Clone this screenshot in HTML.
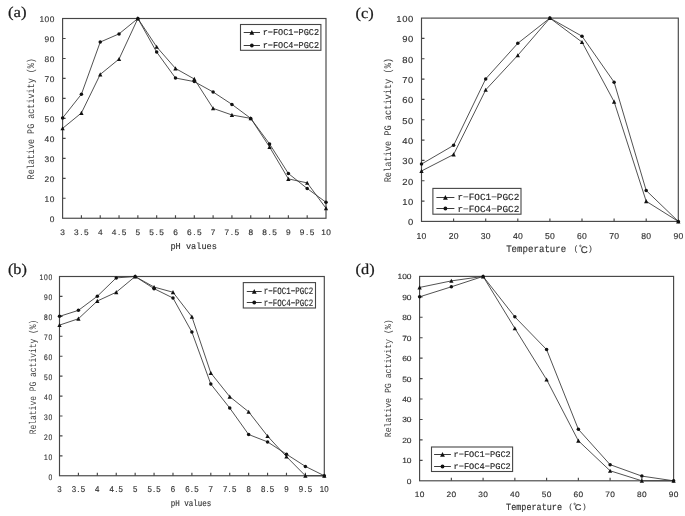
<!DOCTYPE html>
<html><head><meta charset="utf-8"><style>
html,body{margin:0;padding:0;background:#fff;}
svg{display:block;filter:blur(0.3px);}
text{text-rendering:geometricPrecision;}
</style></head><body>
<svg width="685" height="516" viewBox="0 0 685 516" font-family='"Liberation Mono", monospace'>
<rect width="685" height="516" fill="#fff"/>
<g fill="none" stroke="#464646" stroke-width="1.15">
<rect x="62.6" y="18.5" width="263.4" height="199.75"/>
<path d="M62.6 198.28h3M62.6 178.3h3M62.6 158.32h3M62.6 138.35h3M62.6 118.38h3M62.6 98.4h3M62.6 78.43h3M62.6 58.45h3M62.6 38.47h3M81.41 218.25v-3M100.23 218.25v-3M119.04 218.25v-3M137.86 218.25v-3M156.67 218.25v-3M175.49 218.25v-3M194.3 218.25v-3M213.11 218.25v-3M231.93 218.25v-3M250.74 218.25v-3M269.56 218.25v-3M288.37 218.25v-3M307.19 218.25v-3"/>
</g>
<polyline points="62.6,128.36 81.41,112.98 100.23,74.43 119.04,59.05 137.86,18.5 156.67,46.86 175.49,68.44 194.3,79.02 213.11,108.39 231.93,114.98 250.74,118.38 269.56,146.94 288.37,178.9 307.19,182.89 326,208.26" fill="none" stroke="#333333" stroke-width="0.85"/>
<polyline points="62.6,117.98 81.41,94.21 100.23,42.07 119.04,33.88 137.86,18.5 156.67,52.06 175.49,78.03 194.3,81.62 213.11,92.01 231.93,104.39 250.74,118.38 269.56,143.94 288.37,173.51 307.19,188.49 326,202.27" fill="none" stroke="#333333" stroke-width="0.85"/>
<g fill="#111">
<path d="M62.6 126.21L64.75 130.34L60.45 130.34Z"/>
<path d="M81.41 110.83L83.56 114.96L79.26 114.96Z"/>
<path d="M100.23 72.28L102.38 76.41L98.08 76.41Z"/>
<path d="M119.04 56.9L121.19 61.03L116.89 61.03Z"/>
<path d="M137.86 16.35L140.01 20.48L135.71 20.48Z"/>
<path d="M156.67 44.71L158.82 48.84L154.52 48.84Z"/>
<path d="M175.49 66.29L177.64 70.42L173.34 70.42Z"/>
<path d="M194.3 76.87L196.45 81L192.15 81Z"/>
<path d="M213.11 106.24L215.26 110.37L210.96 110.37Z"/>
<path d="M231.93 112.83L234.08 116.96L229.78 116.96Z"/>
<path d="M250.74 116.22L252.89 120.35L248.59 120.35Z"/>
<path d="M269.56 144.79L271.71 148.92L267.41 148.92Z"/>
<path d="M288.37 176.75L290.52 180.88L286.22 180.88Z"/>
<path d="M307.19 180.74L309.34 184.87L305.04 184.87Z"/>
<path d="M326 206.11L328.15 210.24L323.85 210.24Z"/>
<circle cx="62.6" cy="117.98" r="1.75"/>
<circle cx="81.41" cy="94.21" r="1.75"/>
<circle cx="100.23" cy="42.07" r="1.75"/>
<circle cx="119.04" cy="33.88" r="1.75"/>
<circle cx="137.86" cy="18.5" r="1.75"/>
<circle cx="156.67" cy="52.06" r="1.75"/>
<circle cx="175.49" cy="78.03" r="1.75"/>
<circle cx="194.3" cy="81.62" r="1.75"/>
<circle cx="213.11" cy="92.01" r="1.75"/>
<circle cx="231.93" cy="104.39" r="1.75"/>
<circle cx="250.74" cy="118.38" r="1.75"/>
<circle cx="269.56" cy="143.94" r="1.75"/>
<circle cx="288.37" cy="173.51" r="1.75"/>
<circle cx="307.19" cy="188.49" r="1.75"/>
<circle cx="326" cy="202.27" r="1.75"/>
</g>
<g fill="#333333" stroke="#333333" stroke-width="0.15" font-family='"Liberation Mono", monospace'>
<text transform="scale(1.02 1)" x="50.98" y="221.81" font-size="8.2" text-anchor="middle" font-family='"Liberation Sans", sans-serif'>0</text>
<text transform="scale(1.02 1)" x="45.98 50.98" y="201.84" font-size="8.2" text-anchor="middle" font-family='"Liberation Sans", sans-serif'>10</text>
<text transform="scale(1.02 1)" x="45.98 50.98" y="181.86" font-size="8.2" text-anchor="middle" font-family='"Liberation Sans", sans-serif'>20</text>
<text transform="scale(1.02 1)" x="45.98 50.98" y="161.89" font-size="8.2" text-anchor="middle" font-family='"Liberation Sans", sans-serif'>30</text>
<text transform="scale(1.02 1)" x="45.98 50.98" y="141.91" font-size="8.2" text-anchor="middle" font-family='"Liberation Sans", sans-serif'>40</text>
<text transform="scale(1.02 1)" x="45.98 50.98" y="121.94" font-size="8.2" text-anchor="middle" font-family='"Liberation Sans", sans-serif'>50</text>
<text transform="scale(1.02 1)" x="45.98 50.98" y="101.96" font-size="8.2" text-anchor="middle" font-family='"Liberation Sans", sans-serif'>60</text>
<text transform="scale(1.02 1)" x="45.98 50.98" y="81.99" font-size="8.2" text-anchor="middle" font-family='"Liberation Sans", sans-serif'>70</text>
<text transform="scale(1.02 1)" x="45.98 50.98" y="62.01" font-size="8.2" text-anchor="middle" font-family='"Liberation Sans", sans-serif'>80</text>
<text transform="scale(1.02 1)" x="45.98 50.98" y="42.04" font-size="8.2" text-anchor="middle" font-family='"Liberation Sans", sans-serif'>90</text>
<text transform="scale(1.02 1)" x="40.98 45.98 50.98" y="22.06" font-size="8.2" text-anchor="middle" font-family='"Liberation Sans", sans-serif'>100</text>
<text transform="scale(1.03 1)" x="60.78" y="235.2" font-size="8.05" text-anchor="middle" font-family='"Liberation Sans", sans-serif'>3</text>
<text transform="scale(1.03 1)" x="74.19 79.04 83.9" y="235.2" font-size="8.05" text-anchor="middle" font-family='"Liberation Sans", sans-serif'>3.5</text>
<text transform="scale(1.03 1)" x="97.31" y="235.2" font-size="8.05" text-anchor="middle" font-family='"Liberation Sans", sans-serif'>4</text>
<text transform="scale(1.03 1)" x="110.72 115.58 120.43" y="235.2" font-size="8.05" text-anchor="middle" font-family='"Liberation Sans", sans-serif'>4.5</text>
<text transform="scale(1.03 1)" x="133.84" y="235.2" font-size="8.05" text-anchor="middle" font-family='"Liberation Sans", sans-serif'>5</text>
<text transform="scale(1.03 1)" x="147.25 152.11 156.96" y="235.2" font-size="8.05" text-anchor="middle" font-family='"Liberation Sans", sans-serif'>5.5</text>
<text transform="scale(1.03 1)" x="170.37" y="235.2" font-size="8.05" text-anchor="middle" font-family='"Liberation Sans", sans-serif'>6</text>
<text transform="scale(1.03 1)" x="183.79 188.64 193.5" y="235.2" font-size="8.05" text-anchor="middle" font-family='"Liberation Sans", sans-serif'>6.5</text>
<text transform="scale(1.03 1)" x="206.91" y="235.2" font-size="8.05" text-anchor="middle" font-family='"Liberation Sans", sans-serif'>7</text>
<text transform="scale(1.03 1)" x="220.32 225.17 230.03" y="235.2" font-size="8.05" text-anchor="middle" font-family='"Liberation Sans", sans-serif'>7.5</text>
<text transform="scale(1.03 1)" x="243.44" y="235.2" font-size="8.05" text-anchor="middle" font-family='"Liberation Sans", sans-serif'>8</text>
<text transform="scale(1.03 1)" x="256.85 261.71 266.56" y="235.2" font-size="8.05" text-anchor="middle" font-family='"Liberation Sans", sans-serif'>8.5</text>
<text transform="scale(1.03 1)" x="279.97" y="235.2" font-size="8.05" text-anchor="middle" font-family='"Liberation Sans", sans-serif'>9</text>
<text transform="scale(1.03 1)" x="293.38 298.24 303.09" y="235.2" font-size="8.05" text-anchor="middle" font-family='"Liberation Sans", sans-serif'>9.5</text>
<text transform="scale(1.03 1)" x="314.08 318.93" y="235.2" font-size="8.05" text-anchor="middle" font-family='"Liberation Sans", sans-serif'>10</text>
<text transform="translate(34.3 179.4) rotate(-90)" font-size="10.1" stroke-width="0" fill="#404040" textLength="121.31" lengthAdjust="spacingAndGlyphs">Relative PG activity (%)</text>
<text x="170.38" y="249.2" font-size="9" textLength="46.53" lengthAdjust="spacingAndGlyphs" stroke-width="0.15">pH values</text>
<rect x="240.5" y="24.5" width="80.4" height="25.8" fill="#fff" stroke="#464646" stroke-width="1.1"/>
</g>
<path d="M243.7 32.5H260" stroke="#3c3c3c" stroke-width="1" fill="none"/>
<g fill="#111"><path d="M251.85 30.1L254.25 34.71L249.45 34.71Z"/></g>
<g fill="#262626" stroke="#262626" stroke-width="0.15" font-family='"Liberation Mono", monospace'>
<text x="262.69" y="35" font-size="9" textLength="56.43" lengthAdjust="spacingAndGlyphs">r−FOC1−PGC2</text>
</g>
<path d="M243.7 45.5H260" stroke="#3c3c3c" stroke-width="1" fill="none"/>
<g fill="#111"><circle cx="251.85" cy="45.5" r="1.9"/></g>
<g fill="#262626" stroke="#262626" stroke-width="0.15" font-family='"Liberation Mono", monospace'>
<text x="262.69" y="47.6" font-size="9" textLength="56.43" lengthAdjust="spacingAndGlyphs">r−FOC4−PGC2</text>
</g>
<text x="7.9" y="17" font-family='"Liberation Serif", serif' font-size="15" fill="#1a1a1a" stroke="#1a1a1a" stroke-width="0.22" textLength="18.57" lengthAdjust="spacingAndGlyphs">(a)</text>
<g fill="none" stroke="#464646" stroke-width="1.15">
<rect x="59.5" y="276.5" width="264.8" height="199.25"/>
<path d="M59.5 455.82h3M59.5 435.9h3M59.5 415.98h3M59.5 396.05h3M59.5 376.12h3M59.5 356.2h3M59.5 336.27h3M59.5 316.35h3M59.5 296.42h3M78.41 475.75v-3M97.33 475.75v-3M116.24 475.75v-3M135.16 475.75v-3M154.07 475.75v-3M172.99 475.75v-3M191.9 475.75v-3M210.81 475.75v-3M229.73 475.75v-3M248.64 475.75v-3M267.56 475.75v-3M286.47 475.75v-3M305.39 475.75v-3"/>
</g>
<polyline points="59.5,325.12 78.41,318.74 97.33,301.01 116.24,292.24 135.16,276.5 154.07,287.06 172.99,292.24 191.9,316.75 210.81,372.94 229.73,396.65 248.64,411.79 267.56,436.1 286.47,456.62 305.39,475.75 324.3,475.75" fill="none" stroke="#333333" stroke-width="0.85"/>
<polyline points="59.5,316.35 78.41,310.37 97.33,296.23 116.24,277.89 135.16,276.5 154.07,288.65 172.99,298.02 191.9,332.09 210.81,384.1 229.73,408 248.64,434.51 267.56,441.88 286.47,454.23 305.39,466.39 324.3,475.75" fill="none" stroke="#333333" stroke-width="0.85"/>
<g fill="#111">
<path d="M59.5 322.97L61.65 327.1L57.35 327.1Z"/>
<path d="M78.41 316.59L80.56 320.72L76.26 320.72Z"/>
<path d="M97.33 298.86L99.48 302.99L95.18 302.99Z"/>
<path d="M116.24 290.09L118.39 294.22L114.09 294.22Z"/>
<path d="M135.16 274.35L137.31 278.48L133.01 278.48Z"/>
<path d="M154.07 284.91L156.22 289.04L151.92 289.04Z"/>
<path d="M172.99 290.09L175.14 294.22L170.84 294.22Z"/>
<path d="M191.9 314.6L194.05 318.73L189.75 318.73Z"/>
<path d="M210.81 370.79L212.96 374.92L208.66 374.92Z"/>
<path d="M229.73 394.5L231.88 398.63L227.58 398.63Z"/>
<path d="M248.64 409.64L250.79 413.77L246.49 413.77Z"/>
<path d="M267.56 433.95L269.71 438.08L265.41 438.08Z"/>
<path d="M286.47 454.47L288.62 458.6L284.32 458.6Z"/>
<path d="M305.39 473.6L307.54 477.73L303.24 477.73Z"/>
<path d="M324.3 473.6L326.45 477.73L322.15 477.73Z"/>
<circle cx="59.5" cy="316.35" r="1.75"/>
<circle cx="78.41" cy="310.37" r="1.75"/>
<circle cx="97.33" cy="296.23" r="1.75"/>
<circle cx="116.24" cy="277.89" r="1.75"/>
<circle cx="135.16" cy="276.5" r="1.75"/>
<circle cx="154.07" cy="288.65" r="1.75"/>
<circle cx="172.99" cy="298.02" r="1.75"/>
<circle cx="191.9" cy="332.09" r="1.75"/>
<circle cx="210.81" cy="384.1" r="1.75"/>
<circle cx="229.73" cy="408" r="1.75"/>
<circle cx="248.64" cy="434.51" r="1.75"/>
<circle cx="267.56" cy="441.88" r="1.75"/>
<circle cx="286.47" cy="454.23" r="1.75"/>
<circle cx="305.39" cy="466.39" r="1.75"/>
<circle cx="324.3" cy="475.75" r="1.75"/>
</g>
<g fill="#333333" stroke="#333333" stroke-width="0.15" font-family='"Liberation Mono", monospace'>
<text transform="scale(0.83 1)" x="60.73" y="479.66" font-size="8.05" text-anchor="middle" font-family='"Liberation Sans", sans-serif'>0</text>
<text transform="scale(0.83 1)" x="55.3 60.73" y="459.73" font-size="8.05" text-anchor="middle" font-family='"Liberation Sans", sans-serif'>10</text>
<text transform="scale(0.83 1)" x="55.3 60.73" y="439.81" font-size="8.05" text-anchor="middle" font-family='"Liberation Sans", sans-serif'>20</text>
<text transform="scale(0.83 1)" x="55.3 60.73" y="419.88" font-size="8.05" text-anchor="middle" font-family='"Liberation Sans", sans-serif'>30</text>
<text transform="scale(0.83 1)" x="55.3 60.73" y="399.96" font-size="8.05" text-anchor="middle" font-family='"Liberation Sans", sans-serif'>40</text>
<text transform="scale(0.83 1)" x="55.3 60.73" y="380.03" font-size="8.05" text-anchor="middle" font-family='"Liberation Sans", sans-serif'>50</text>
<text transform="scale(0.83 1)" x="55.3 60.73" y="360.11" font-size="8.05" text-anchor="middle" font-family='"Liberation Sans", sans-serif'>60</text>
<text transform="scale(0.83 1)" x="55.3 60.73" y="340.18" font-size="8.05" text-anchor="middle" font-family='"Liberation Sans", sans-serif'>70</text>
<text transform="scale(0.83 1)" x="55.3 60.73" y="320.26" font-size="8.05" text-anchor="middle" font-family='"Liberation Sans", sans-serif'>80</text>
<text transform="scale(0.83 1)" x="55.3 60.73" y="300.33" font-size="8.05" text-anchor="middle" font-family='"Liberation Sans", sans-serif'>90</text>
<text transform="scale(0.83 1)" x="49.88 55.3 60.73" y="280.41" font-size="8.05" text-anchor="middle" font-family='"Liberation Sans", sans-serif'>100</text>
<text transform="scale(0.93 1)" x="63.98" y="492.1" font-size="8.5" text-anchor="middle" font-family='"Liberation Sans", sans-serif'>3</text>
<text transform="scale(0.93 1)" x="79.53 84.32 89.1" y="492.1" font-size="8.5" text-anchor="middle" font-family='"Liberation Sans", sans-serif'>3.5</text>
<text transform="scale(0.93 1)" x="104.65" y="492.1" font-size="8.5" text-anchor="middle" font-family='"Liberation Sans", sans-serif'>4</text>
<text transform="scale(0.93 1)" x="120.21 124.99 129.78" y="492.1" font-size="8.5" text-anchor="middle" font-family='"Liberation Sans", sans-serif'>4.5</text>
<text transform="scale(0.93 1)" x="145.33" y="492.1" font-size="8.5" text-anchor="middle" font-family='"Liberation Sans", sans-serif'>5</text>
<text transform="scale(0.93 1)" x="160.88 165.67 170.45" y="492.1" font-size="8.5" text-anchor="middle" font-family='"Liberation Sans", sans-serif'>5.5</text>
<text transform="scale(0.93 1)" x="186.01" y="492.1" font-size="8.5" text-anchor="middle" font-family='"Liberation Sans", sans-serif'>6</text>
<text transform="scale(0.93 1)" x="201.56 206.34 211.13" y="492.1" font-size="8.5" text-anchor="middle" font-family='"Liberation Sans", sans-serif'>6.5</text>
<text transform="scale(0.93 1)" x="226.68" y="492.1" font-size="8.5" text-anchor="middle" font-family='"Liberation Sans", sans-serif'>7</text>
<text transform="scale(0.93 1)" x="242.24 247.02 251.8" y="492.1" font-size="8.5" text-anchor="middle" font-family='"Liberation Sans", sans-serif'>7.5</text>
<text transform="scale(0.93 1)" x="267.36" y="492.1" font-size="8.5" text-anchor="middle" font-family='"Liberation Sans", sans-serif'>8</text>
<text transform="scale(0.93 1)" x="282.91 287.7 292.48" y="492.1" font-size="8.5" text-anchor="middle" font-family='"Liberation Sans", sans-serif'>8.5</text>
<text transform="scale(0.93 1)" x="308.03" y="492.1" font-size="8.5" text-anchor="middle" font-family='"Liberation Sans", sans-serif'>9</text>
<text transform="scale(0.93 1)" x="323.59 328.37 333.16" y="492.1" font-size="8.5" text-anchor="middle" font-family='"Liberation Sans", sans-serif'>9.5</text>
<text transform="scale(0.93 1)" x="346.32 351.1" y="492.1" font-size="8.5" text-anchor="middle" font-family='"Liberation Sans", sans-serif'>10</text>
<text transform="translate(35.7 434.28) rotate(-90)" font-size="9.9" stroke-width="0" fill="#404040" textLength="114.66" lengthAdjust="spacingAndGlyphs">Relative PG activity (%)</text>
<text x="170.75" y="506" font-size="8.8" textLength="40.6" lengthAdjust="spacingAndGlyphs" stroke-width="0.15">pH values</text>
<rect x="243.3" y="282.6" width="72.2" height="25.4" fill="#fff" stroke="#464646" stroke-width="1.1"/>
</g>
<path d="M246.8 291.5H261.7" stroke="#3c3c3c" stroke-width="1" fill="none"/>
<g fill="#111"><path d="M254.25 289.1L256.65 293.71L251.85 293.71Z"/></g>
<g fill="#262626" stroke="#262626" stroke-width="0.15" font-family='"Liberation Mono", monospace'>
<text x="263.85" y="293.8" font-size="9.8" textLength="49.5" lengthAdjust="spacingAndGlyphs">r−FOC1−PGC2</text>
</g>
<path d="M246.8 302.5H261.7" stroke="#3c3c3c" stroke-width="1" fill="none"/>
<g fill="#111"><circle cx="254.25" cy="302.5" r="1.9"/></g>
<g fill="#262626" stroke="#262626" stroke-width="0.15" font-family='"Liberation Mono", monospace'>
<text x="263.85" y="305.5" font-size="9.8" textLength="49.5" lengthAdjust="spacingAndGlyphs">r−FOC4−PGC2</text>
</g>
<text x="7.9" y="274.1" font-family='"Liberation Serif", serif' font-size="15" fill="#1a1a1a" stroke="#1a1a1a" stroke-width="0.22" textLength="18.93" lengthAdjust="spacingAndGlyphs">(b)</text>
<g fill="none" stroke="#464646" stroke-width="1.15">
<rect x="421.5" y="18.1" width="256.8" height="203.3"/>
<path d="M421.5 201.07h3M421.5 180.74h3M421.5 160.41h3M421.5 140.08h3M421.5 119.75h3M421.5 99.42h3M421.5 79.09h3M421.5 58.76h3M421.5 38.43h3M453.6 221.4v-3M485.7 221.4v-3M517.8 221.4v-3M549.9 221.4v-3M582 221.4v-3M614.1 221.4v-3M646.2 221.4v-3"/>
</g>
<polyline points="421.5,170.98 453.6,154.51 485.7,89.86 517.8,55.3 549.9,18.1 582,42.09 614.1,101.66 646.2,201.27 678.3,221.4" fill="none" stroke="#333333" stroke-width="0.85"/>
<polyline points="421.5,164.07 453.6,145.37 485.7,78.89 517.8,43.31 549.9,18.1 582,36.19 614.1,82.14 646.2,190.5 678.3,221.4" fill="none" stroke="#333333" stroke-width="0.85"/>
<g fill="#111">
<path d="M421.5 168.83L423.65 172.96L419.35 172.96Z"/>
<path d="M453.6 152.36L455.75 156.49L451.45 156.49Z"/>
<path d="M485.7 87.71L487.85 91.84L483.55 91.84Z"/>
<path d="M517.8 53.15L519.95 57.28L515.65 57.28Z"/>
<path d="M549.9 15.95L552.05 20.08L547.75 20.08Z"/>
<path d="M582 39.94L584.15 44.07L579.85 44.07Z"/>
<path d="M614.1 99.51L616.25 103.63L611.95 103.63Z"/>
<path d="M646.2 199.12L648.35 203.25L644.05 203.25Z"/>
<path d="M678.3 219.25L680.45 223.38L676.15 223.38Z"/>
<circle cx="421.5" cy="164.07" r="1.75"/>
<circle cx="453.6" cy="145.37" r="1.75"/>
<circle cx="485.7" cy="78.89" r="1.75"/>
<circle cx="517.8" cy="43.31" r="1.75"/>
<circle cx="549.9" cy="18.1" r="1.75"/>
<circle cx="582" cy="36.19" r="1.75"/>
<circle cx="614.1" cy="82.14" r="1.75"/>
<circle cx="646.2" cy="190.5" r="1.75"/>
<circle cx="678.3" cy="221.4" r="1.75"/>
</g>
<g fill="#333333" stroke="#333333" stroke-width="0.15" font-family='"Liberation Mono", monospace'>
<text transform="scale(1.08 1)" x="380.32" y="225.35" font-size="8.75" text-anchor="middle" font-family='"Liberation Sans", sans-serif'>0</text>
<text transform="scale(1.08 1)" x="374.85 380.32" y="205.02" font-size="8.75" text-anchor="middle" font-family='"Liberation Sans", sans-serif'>10</text>
<text transform="scale(1.08 1)" x="374.85 380.32" y="184.69" font-size="8.75" text-anchor="middle" font-family='"Liberation Sans", sans-serif'>20</text>
<text transform="scale(1.08 1)" x="374.85 380.32" y="164.36" font-size="8.75" text-anchor="middle" font-family='"Liberation Sans", sans-serif'>30</text>
<text transform="scale(1.08 1)" x="374.85 380.32" y="144.03" font-size="8.75" text-anchor="middle" font-family='"Liberation Sans", sans-serif'>40</text>
<text transform="scale(1.08 1)" x="374.85 380.32" y="123.7" font-size="8.75" text-anchor="middle" font-family='"Liberation Sans", sans-serif'>50</text>
<text transform="scale(1.08 1)" x="374.85 380.32" y="103.37" font-size="8.75" text-anchor="middle" font-family='"Liberation Sans", sans-serif'>60</text>
<text transform="scale(1.08 1)" x="374.85 380.32" y="83.04" font-size="8.75" text-anchor="middle" font-family='"Liberation Sans", sans-serif'>70</text>
<text transform="scale(1.08 1)" x="374.85 380.32" y="62.71" font-size="8.75" text-anchor="middle" font-family='"Liberation Sans", sans-serif'>80</text>
<text transform="scale(1.08 1)" x="374.85 380.32" y="42.38" font-size="8.75" text-anchor="middle" font-family='"Liberation Sans", sans-serif'>90</text>
<text transform="scale(1.08 1)" x="369.39 374.85 380.32" y="22.05" font-size="8.75" text-anchor="middle" font-family='"Liberation Sans", sans-serif'>100</text>
<text x="419 424" y="238.8" font-size="8.6" text-anchor="middle" font-family='"Liberation Sans", sans-serif'>10</text>
<text x="451.1 456.1" y="238.8" font-size="8.6" text-anchor="middle" font-family='"Liberation Sans", sans-serif'>20</text>
<text x="483.2 488.2" y="238.8" font-size="8.6" text-anchor="middle" font-family='"Liberation Sans", sans-serif'>30</text>
<text x="515.3 520.3" y="238.8" font-size="8.6" text-anchor="middle" font-family='"Liberation Sans", sans-serif'>40</text>
<text x="547.4 552.4" y="238.8" font-size="8.6" text-anchor="middle" font-family='"Liberation Sans", sans-serif'>50</text>
<text x="579.5 584.5" y="238.8" font-size="8.6" text-anchor="middle" font-family='"Liberation Sans", sans-serif'>60</text>
<text x="611.6 616.6" y="238.8" font-size="8.6" text-anchor="middle" font-family='"Liberation Sans", sans-serif'>70</text>
<text x="643.7 648.7" y="238.8" font-size="8.6" text-anchor="middle" font-family='"Liberation Sans", sans-serif'>80</text>
<text x="675.8 680.8" y="238.8" font-size="8.6" text-anchor="middle" font-family='"Liberation Sans", sans-serif'>90</text>
<text transform="translate(391.1 182.31) rotate(-90)" font-size="10.1" stroke-width="0" fill="#404040" textLength="124.34" lengthAdjust="spacingAndGlyphs">Relative PG activity (%)</text>
<text x="506.15" y="252.2" font-size="10" textLength="60.09" lengthAdjust="spacingAndGlyphs" stroke-width="0.15">Temperature</text>
<text x="575.85" y="250.9" font-size="7.7" text-anchor="middle" font-family='"Liberation Sans", sans-serif' stroke-width="0.12">(</text>
<text x="590.5" y="250.9" font-size="7.7" text-anchor="middle" font-family='"Liberation Sans", sans-serif' stroke-width="0.12">)</text>
<text transform="scale(1 1)" x="584.15" y="252.6" font-size="9.6" text-anchor="middle" font-family='"Liberation Sans", sans-serif' stroke-width="0.2">C</text>
<circle cx="580.4" cy="245.9" r="0.8" fill="none" stroke="#333333" stroke-width="0.65"/>
<rect x="432.9" y="188.4" width="88.1" height="25.8" fill="#fff" stroke="#464646" stroke-width="1.1"/>
</g>
<path d="M436.4 197.5H454.4" stroke="#3c3c3c" stroke-width="1" fill="none"/>
<g fill="#111"><path d="M445.4 195.1L447.8 199.71L443 199.71Z"/></g>
<g fill="#262626" stroke="#262626" stroke-width="0.15" font-family='"Liberation Mono", monospace'>
<text x="457.44" y="199.5" font-size="9.4" textLength="61.82" lengthAdjust="spacingAndGlyphs">r−FOC1−PGC2</text>
</g>
<path d="M436.4 208.5H454.4" stroke="#3c3c3c" stroke-width="1" fill="none"/>
<g fill="#111"><circle cx="445.4" cy="208.5" r="1.9"/></g>
<g fill="#262626" stroke="#262626" stroke-width="0.15" font-family='"Liberation Mono", monospace'>
<text x="457.44" y="211.6" font-size="9.4" textLength="61.82" lengthAdjust="spacingAndGlyphs">r−FOC4−PGC2</text>
</g>
<text x="355.6" y="17.5" font-family='"Liberation Serif", serif' font-size="15" fill="#1a1a1a" stroke="#1a1a1a" stroke-width="0.22" textLength="18.14" lengthAdjust="spacingAndGlyphs">(c)</text>
<g fill="none" stroke="#464646" stroke-width="1.15">
<rect x="419.6" y="276.4" width="254" height="204.4"/>
<path d="M419.6 460.36h3M419.6 439.92h3M419.6 419.48h3M419.6 399.04h3M419.6 378.6h3M419.6 358.16h3M419.6 337.72h3M419.6 317.28h3M419.6 296.84h3M451.35 480.8v-3M483.1 480.8v-3M514.85 480.8v-3M546.6 480.8v-3M578.35 480.8v-3M610.1 480.8v-3M641.85 480.8v-3"/>
</g>
<polyline points="419.6,287.44 451.35,280.9 483.1,276.4 514.85,328.32 546.6,379.62 578.35,440.74 610.1,470.78 641.85,480.8 673.6,480.8" fill="none" stroke="#333333" stroke-width="0.85"/>
<polyline points="419.6,296.84 451.35,286.82 483.1,276.4 514.85,316.87 546.6,349.58 578.35,429.29 610.1,464.65 641.85,476.1 673.6,480.8" fill="none" stroke="#333333" stroke-width="0.85"/>
<g fill="#111">
<path d="M419.6 285.29L421.75 289.42L417.45 289.42Z"/>
<path d="M451.35 278.75L453.5 282.87L449.2 282.87Z"/>
<path d="M483.1 274.25L485.25 278.38L480.95 278.38Z"/>
<path d="M514.85 326.17L517 330.3L512.7 330.3Z"/>
<path d="M546.6 377.47L548.75 381.6L544.45 381.6Z"/>
<path d="M578.35 438.59L580.5 442.72L576.2 442.72Z"/>
<path d="M610.1 468.63L612.25 472.76L607.95 472.76Z"/>
<path d="M641.85 478.65L644 482.78L639.7 482.78Z"/>
<path d="M673.6 478.65L675.75 482.78L671.45 482.78Z"/>
<circle cx="419.6" cy="296.84" r="1.75"/>
<circle cx="451.35" cy="286.82" r="1.75"/>
<circle cx="483.1" cy="276.4" r="1.75"/>
<circle cx="514.85" cy="316.87" r="1.75"/>
<circle cx="546.6" cy="349.58" r="1.75"/>
<circle cx="578.35" cy="429.29" r="1.75"/>
<circle cx="610.1" cy="464.65" r="1.75"/>
<circle cx="641.85" cy="476.1" r="1.75"/>
<circle cx="673.6" cy="480.8" r="1.75"/>
</g>
<g fill="#333333" stroke="#333333" stroke-width="0.15" font-family='"Liberation Mono", monospace'>
<text transform="scale(1.12 1)" x="365.35" y="483.72" font-size="7.5" text-anchor="middle" font-family='"Liberation Sans", sans-serif'>0</text>
<text transform="scale(1.12 1)" x="361.15 365.35" y="463.28" font-size="7.5" text-anchor="middle" font-family='"Liberation Sans", sans-serif'>10</text>
<text transform="scale(1.12 1)" x="361.15 365.35" y="442.84" font-size="7.5" text-anchor="middle" font-family='"Liberation Sans", sans-serif'>20</text>
<text transform="scale(1.12 1)" x="361.15 365.35" y="422.4" font-size="7.5" text-anchor="middle" font-family='"Liberation Sans", sans-serif'>30</text>
<text transform="scale(1.12 1)" x="361.15 365.35" y="401.96" font-size="7.5" text-anchor="middle" font-family='"Liberation Sans", sans-serif'>40</text>
<text transform="scale(1.12 1)" x="361.15 365.35" y="381.52" font-size="7.5" text-anchor="middle" font-family='"Liberation Sans", sans-serif'>50</text>
<text transform="scale(1.12 1)" x="361.15 365.35" y="361.08" font-size="7.5" text-anchor="middle" font-family='"Liberation Sans", sans-serif'>60</text>
<text transform="scale(1.12 1)" x="361.15 365.35" y="340.64" font-size="7.5" text-anchor="middle" font-family='"Liberation Sans", sans-serif'>70</text>
<text transform="scale(1.12 1)" x="361.15 365.35" y="320.2" font-size="7.5" text-anchor="middle" font-family='"Liberation Sans", sans-serif'>80</text>
<text transform="scale(1.12 1)" x="361.15 365.35" y="299.76" font-size="7.5" text-anchor="middle" font-family='"Liberation Sans", sans-serif'>90</text>
<text transform="scale(1.12 1)" x="356.96 361.15 365.35" y="279.32" font-size="7.5" text-anchor="middle" font-family='"Liberation Sans", sans-serif'>100</text>
<text transform="scale(1.07 1)" x="389.81 394.49" y="496.8" font-size="7.8" text-anchor="middle" font-family='"Liberation Sans", sans-serif'>10</text>
<text transform="scale(1.07 1)" x="419.49 424.16" y="496.8" font-size="7.8" text-anchor="middle" font-family='"Liberation Sans", sans-serif'>20</text>
<text transform="scale(1.07 1)" x="449.16 453.83" y="496.8" font-size="7.8" text-anchor="middle" font-family='"Liberation Sans", sans-serif'>30</text>
<text transform="scale(1.07 1)" x="478.83 483.5" y="496.8" font-size="7.8" text-anchor="middle" font-family='"Liberation Sans", sans-serif'>40</text>
<text transform="scale(1.07 1)" x="508.5 513.18" y="496.8" font-size="7.8" text-anchor="middle" font-family='"Liberation Sans", sans-serif'>50</text>
<text transform="scale(1.07 1)" x="538.18 542.85" y="496.8" font-size="7.8" text-anchor="middle" font-family='"Liberation Sans", sans-serif'>60</text>
<text transform="scale(1.07 1)" x="567.85 572.52" y="496.8" font-size="7.8" text-anchor="middle" font-family='"Liberation Sans", sans-serif'>70</text>
<text transform="scale(1.07 1)" x="597.52 602.2" y="496.8" font-size="7.8" text-anchor="middle" font-family='"Liberation Sans", sans-serif'>80</text>
<text transform="scale(1.07 1)" x="627.2 631.87" y="496.8" font-size="7.8" text-anchor="middle" font-family='"Liberation Sans", sans-serif'>90</text>
<text transform="translate(391.1 437.29) rotate(-90)" font-size="9.4" stroke-width="0" fill="#404040" textLength="117.98" lengthAdjust="spacingAndGlyphs">Relative PG activity (%)</text>
<text x="506.09" y="510.4" font-size="9.6" textLength="55.92" lengthAdjust="spacingAndGlyphs" stroke-width="0.15">Temperature</text>
<text x="570.6" y="508.65" font-size="7.5" text-anchor="middle" font-family='"Liberation Sans", sans-serif' stroke-width="0.12">(</text>
<text x="584.4" y="508.65" font-size="7.5" text-anchor="middle" font-family='"Liberation Sans", sans-serif' stroke-width="0.12">)</text>
<text transform="scale(1.12 1)" x="516.16" y="509.6" font-size="8.2" text-anchor="middle" font-family='"Liberation Sans", sans-serif' stroke-width="0.2">C</text>
<circle cx="574.6" cy="503.9" r="0.8" fill="none" stroke="#333333" stroke-width="0.65"/>
<rect x="431.5" y="447" width="81.1" height="24.5" fill="#fff" stroke="#464646" stroke-width="1.1"/>
</g>
<path d="M434.1 454.5H450.9" stroke="#3c3c3c" stroke-width="1" fill="none"/>
<g fill="#111"><path d="M442.5 452.1L444.9 456.71L440.1 456.71Z"/></g>
<g fill="#262626" stroke="#262626" stroke-width="0.15" font-family='"Liberation Mono", monospace'>
<text x="453.48" y="456.8" font-size="8.6" textLength="57.34" lengthAdjust="spacingAndGlyphs">r−FOC1−PGC2</text>
</g>
<path d="M434.1 466.5H450.9" stroke="#3c3c3c" stroke-width="1" fill="none"/>
<g fill="#111"><circle cx="442.5" cy="466.5" r="1.9"/></g>
<g fill="#262626" stroke="#262626" stroke-width="0.15" font-family='"Liberation Mono", monospace'>
<text x="453.48" y="468.7" font-size="8.6" textLength="57.34" lengthAdjust="spacingAndGlyphs">r−FOC4−PGC2</text>
</g>
<text x="355.6" y="273.7" font-family='"Liberation Serif", serif' font-size="15" fill="#1a1a1a" stroke="#1a1a1a" stroke-width="0.22" textLength="19.04" lengthAdjust="spacingAndGlyphs">(d)</text>
</svg>
</body></html>
